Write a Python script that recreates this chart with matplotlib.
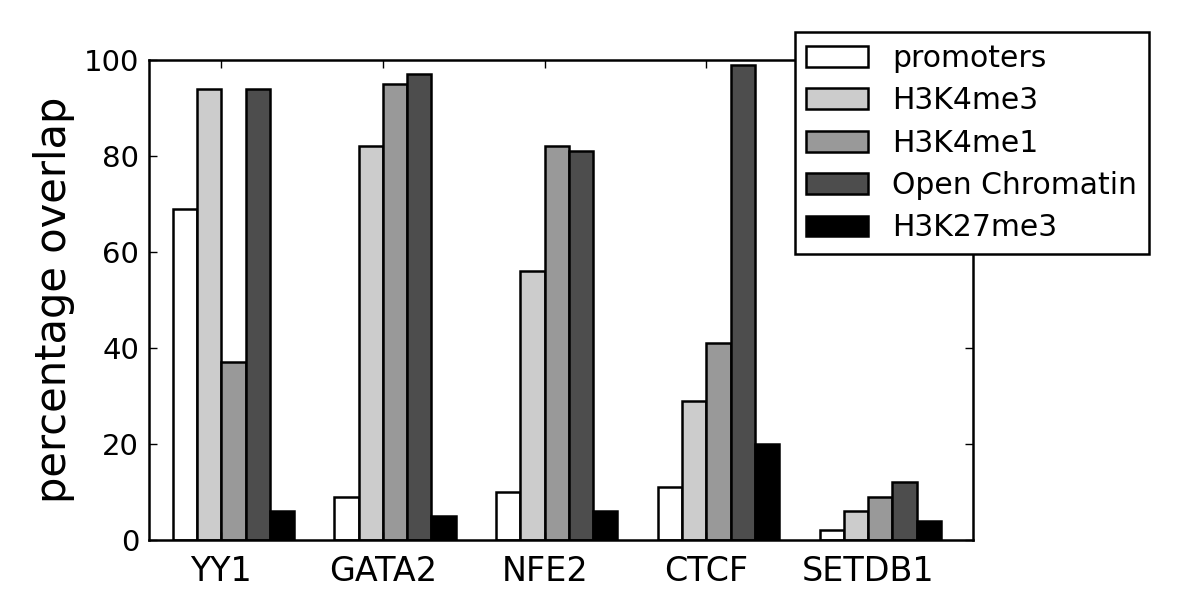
import numpy as np
import matplotlib
matplotlib.use("Agg")
import matplotlib.pyplot as plt

factors = ["YY1", "GATA2", "NFE2", "CTCF", "SETDB1"]
series = ["promoters", "H3K4me3", "H3K4me1", "Open Chromatin", "H3K27me3"]
promoters = [69, 9, 10, 11, 2]
h3k4me3 = [94, 82, 56, 29, 6]
h3k4me1 = [37, 95, 82, 41, 9]
open_chromatin = [94, 97, 81, 99, 12]
h3k27me3 = [6, 5, 6, 20, 4]
colors = ["white", "#cccccc", "#999999", "#4d4d4d", "black"]

values = [promoters, h3k4me3, h3k4me1, open_chromatin, h3k27me3]
ind = np.arange(len(factors))
width = 0.15

fig = plt.figure(figsize=(12, 6), dpi=100)
ax = fig.add_axes([0.124, 0.1, 0.687, 0.8])

for i, (vals, name, col) in enumerate(zip(values, series, colors)):
    ax.bar(ind + i * width, vals, width, align="edge", color=col,
           edgecolor="black", linewidth=1.8, label=name)

ax.set_xticks(ind + 2 * width)
ax.set_xticklabels(factors)
ax.set_xlim(-0.148, 4.95)
ax.set_ylim(0, 100)
ax.set_yticks([0, 20, 40, 60, 80, 100])
ax.tick_params(direction="in", top=True, right=True, length=6, width=1)
ax.tick_params(axis="x", labelsize=24, pad=11)
ax.tick_params(axis="y", labelsize=21, pad=7)
ax.set_ylabel("percentage overlap", fontsize=30, labelpad=6)
for s in ax.spines.values():
    s.set_linewidth(1.8)

leg = ax.legend(loc="upper right", bbox_to_anchor=(0.9575, 0.947),
                bbox_transform=fig.transFigure, borderaxespad=0,
                fontsize=21.5, fancybox=False, framealpha=1,
                handlelength=2.07, handleheight=0.7, handletextpad=0.8,
                labelspacing=0.45, borderpad=0.4)
leg.get_frame().set_edgecolor("black")
leg.get_frame().set_linewidth(1.8)

fig.savefig("out.png", dpi=100)
